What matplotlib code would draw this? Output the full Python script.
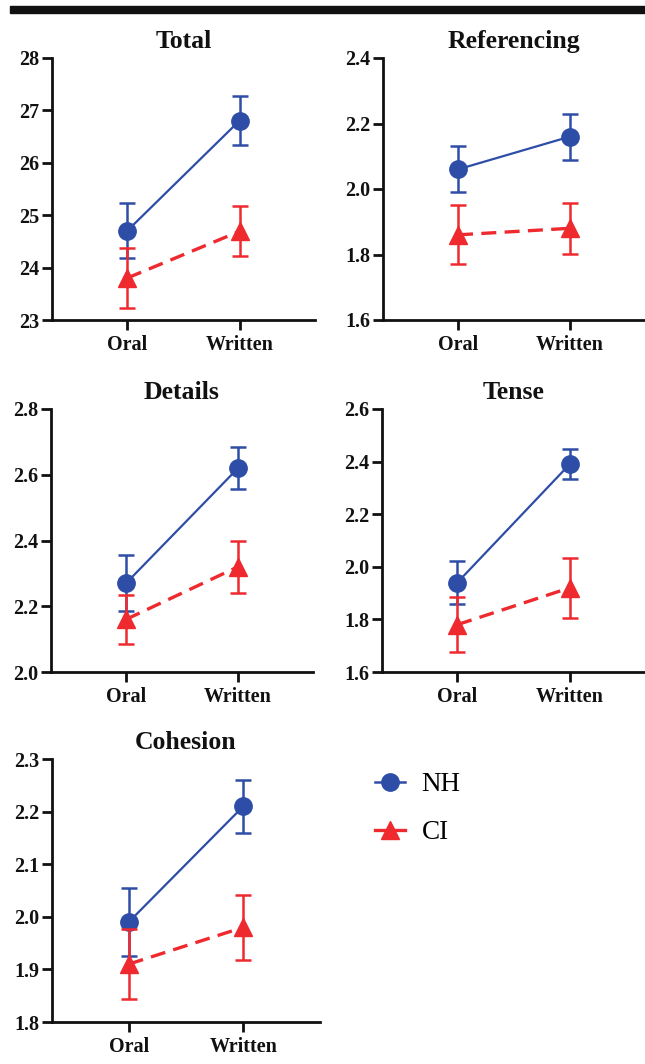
import matplotlib
matplotlib.use("Agg")
import matplotlib.pyplot as plt
from matplotlib.lines import Line2D
from matplotlib.patches import Rectangle
from matplotlib.ticker import FormatStrFormatter

panels = ["Total", "Referencing", "Details", "Tense", "Cohesion"]
conditions = ["Oral", "Written"]
groups = ["NH", "CI"]
nh_mean = [[24.7, 26.8], [2.06, 2.16], [2.27, 2.62], [1.94, 2.39], [1.99, 2.21]]
nh_err = [[0.52, 0.47], [0.07, 0.07], [0.085, 0.064], [0.082, 0.057], [0.065, 0.05]]
ci_mean = [[23.8, 24.69], [1.86, 1.88], [2.16, 2.32], [1.78, 1.92], [1.91, 1.98]]
ci_err = [[0.58, 0.475], [0.09, 0.078], [0.075, 0.08], [0.105, 0.114], [0.067, 0.062]]
y_ranges = [(23, 28, 1), (1.6, 2.4, 0.2), (2.0, 2.8, 0.2), (1.6, 2.6, 0.2), (1.8, 2.3, 0.1)]

W, H = 645, 1064
fig = plt.figure(figsize=(W / 100, H / 100), dpi=100)
plt.rcParams['font.family'] = ['Liberation Serif', 'DejaVu Serif']

# axes boxes in pixels: left, right, top, bottom
boxes = [(52, 315, 57.5, 320), (383, 645, 58, 320), (51, 313, 409, 672),
         (382, 645, 409, 672), (52, 320, 759, 1022)]

blue = "#2E4DA7"
red = "#EE2A2F"

fig.patches.append(Rectangle((10 / W, 1 - 12.5 / H), 640 / W, 6.5 / H,
                             transform=fig.transFigure, color="#111111", zorder=5))

for i, name in enumerate(panels):
    l, r, t, b = boxes[i]
    ax = fig.add_axes([l / W, 1 - b / H, (r - l) / W, (b - t) / H])
    x = list(range(len(conditions)))
    ax.errorbar(x, nh_mean[i], yerr=nh_err[i], color=blue, lw=1.6, marker='o',
                ms=12.5, capsize=6, capthick=1.8, elinewidth=1.8, zorder=3, clip_on=False)
    ax.errorbar(x, ci_mean[i], yerr=ci_err[i], color=red, lw=2.4, ls=(0, (4.5, 2.5)),
                marker='^', ms=12.5, capsize=6, capthick=1.8, elinewidth=1.8, zorder=4,
                clip_on=False)
    lo, hi, st = y_ranges[i]
    ax.set_ylim(lo, hi)
    n = int(round((hi - lo) / st))
    ax.set_yticks([lo + k * st for k in range(n + 1)])
    if i == 0:
        ax.yaxis.set_major_formatter(FormatStrFormatter('%d'))
    else:
        ax.yaxis.set_major_formatter(FormatStrFormatter('%.1f'))
    ax.set_xlim(-0.67, 1.67)
    ax.set_xticks(x)
    ax.set_xticklabels(conditions)
    for s in ['top', 'right']:
        ax.spines[s].set_visible(False)
    for s in ['left', 'bottom']:
        ax.spines[s].set_linewidth(2.0)
        ax.spines[s].set_color('#111111')
    ax.tick_params(axis='both', width=2.0, length=7, color='#111111', labelsize=14.5,
                   labelcolor='#111111')
    ax.tick_params(axis='y', pad=2)
    ax.tick_params(axis='x', pad=4)
    for lab in ax.get_xticklabels() + ax.get_yticklabels():
        lab.set_fontweight('bold')
    ax.set_title(name, fontsize=18.5, fontweight='bold', pad=7, color='#111111')

handles = [Line2D([], [], color=blue, lw=1.8, marker='o', ms=12.5),
           Line2D([], [], color=red, lw=2.4, marker='^', ms=12.5)]
fig.legend(handles, groups, loc='upper left', bbox_to_anchor=(351 / W, 1 - 748 / H),
           frameon=False, prop={'family': 'Liberation Serif', 'size': 19.5},
           handlelength=1.1, handletextpad=0.6, labelspacing=0.85)

fig.savefig("out.png", dpi=100)
